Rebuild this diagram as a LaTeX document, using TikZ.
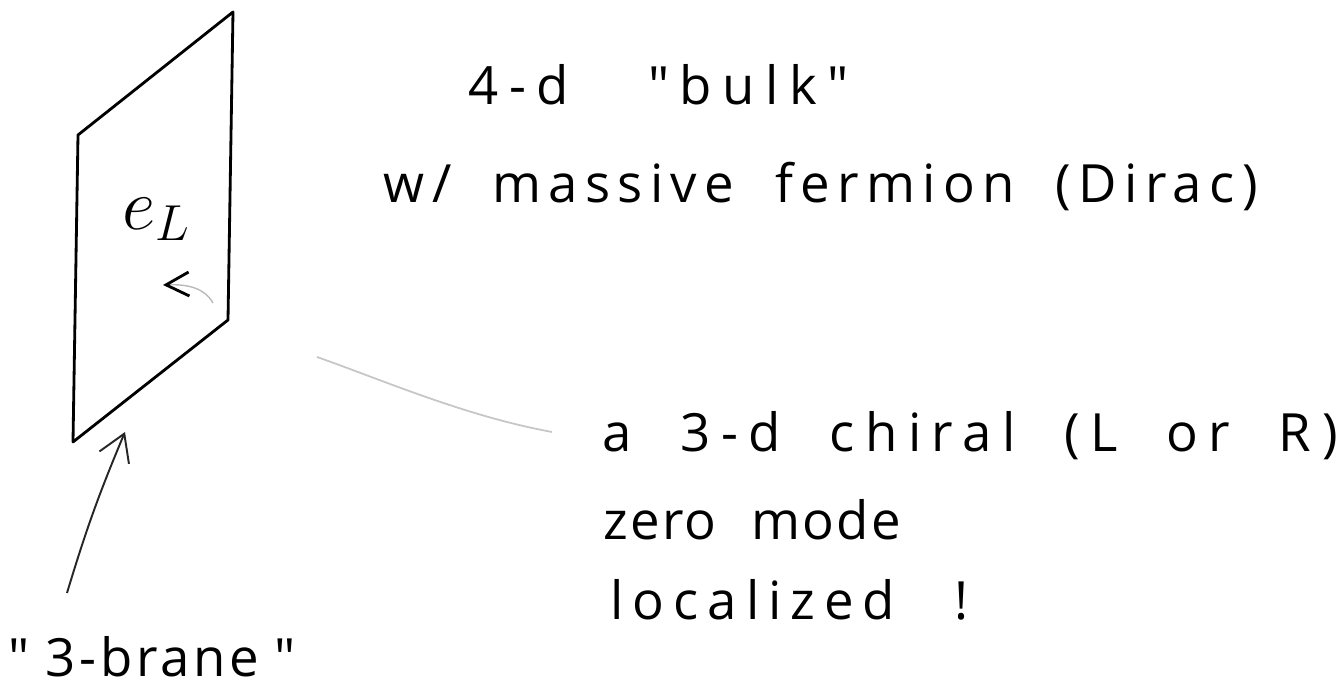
\documentclass[tikz,border=0pt]{standalone}
\usepackage{fontspec}
\setmainfont{Open Sans}
\newfontfamily\hand{Open Sans}
\usetikzlibrary{arrows.meta}
\begin{document}
\begin{tikzpicture}[
  edge/.style={line width=0.8pt, line join=round, line cap=round},
  txt/.style={anchor=base west, inner sep=0pt, font=\hand\fontsize{15}{18}\selectfont},
  ptr/.style={line width=0.55pt, black!85, -{Straight Barb[length=2.6mm,width=3.2mm]}},
  faint/.style={line width=0.5pt, gray!45},
  small arrow/.style={line width=0.4pt, gray!55, -{Straight Barb[length=2.3mm,width=2.4mm,color=black,line width=0.8pt]}}
]
\useasboundingbox (0,0) rectangle (13.42,6.91);
% brane
\coordinate (tl) at (0.78,5.56);
\coordinate (tr) at (2.33,6.79);
\coordinate (br) at (2.28,3.71);
\coordinate (bl) at (0.73,2.49);
\draw[edge] (bl) -- (tl) -- (tr) -- (br) -- cycle;
\node[anchor=base west, inner sep=0pt] (eL) at (1.22,4.61) {\fontsize{20}{24}\selectfont $e_L$};
% small arrow on the brane
\coordinate (sTail) at (2.13,3.88);
\coordinate (sTip) at (1.63,4.06);
\draw[small arrow] (sTail) .. controls (2.05,4.02) and (1.9,4.07) .. (sTip);
% texts
\node[txt] (bulk) at (4.68,5.86) {\addfontfeature{LetterSpace=20}\makebox[3.8cm][s]{4-d "bulk"}};
\node[txt] (fermion) at (3.83,4.88) {\addfontfeature{LetterSpace=14}\makebox[8.74cm][s]{w/ massive fermion (Dirac)}};
\node[txt] (chiral) at (6.02,2.39) {\addfontfeature{LetterSpace=20}\makebox[7.35cm][s]{a 3-d chiral (L or R)}};
\node[txt] (zero) at (6.03,1.51) {\addfontfeature{LetterSpace=4}\makebox[2.97cm][s]{zero mode}};
\node[txt] (local) at (6.10,0.71) {\addfontfeature{LetterSpace=17}\makebox[3.58cm][s]{localized !}};
\node[txt] (blabel) at (0.08,0.14) {\addfontfeature{LetterSpace=7}\makebox[2.87cm][s]{"\hfill3-brane\hfill"}};
% arrow from label to brane
\coordinate (bTail) at (0.67,0.98);
\coordinate (bTip) at (1.25,2.59);
\draw[ptr] (bTail) to[bend left=3] (bTip);
% faint line from brane toward the zero mode text
\coordinate (fA) at (3.17,3.34);
\coordinate (fB) at (5.52,2.59);
\draw[faint] (fA) .. controls (3.85,3.10) and (4.65,2.75) .. (fB);
\end{tikzpicture}
\end{document}
